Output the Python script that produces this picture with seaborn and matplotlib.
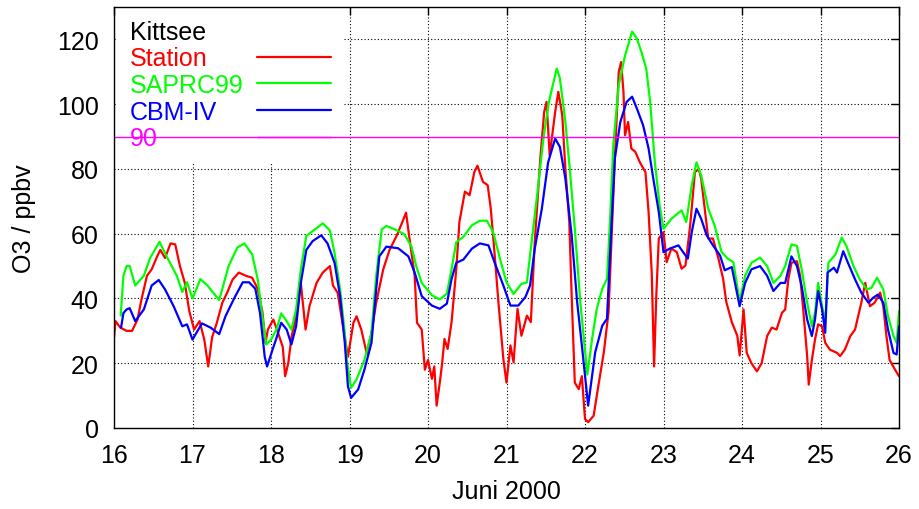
import matplotlib
matplotlib.use("Agg")
import matplotlib.pyplot as plt
import seaborn as sns
import numpy as np

# ---- data (day of June 2000, O3 ppbv) ----
t_station = [16.00, 16.02, 16.08, 16.16, 16.23, 16.30, 16.35, 16.42, 16.48, 16.55, 16.59, 16.65,
             16.72, 16.78, 16.84, 16.90, 16.96, 17.02, 17.09, 17.15, 17.20, 17.25, 17.31, 17.38,
             17.44, 17.51, 17.59, 17.68, 17.76, 17.83, 17.89, 17.93, 17.96, 18.03, 18.09, 18.15,
             18.18, 18.22, 18.26, 18.32, 18.38, 18.44, 18.49, 18.58, 18.66, 18.75, 18.79, 18.85,
             18.91, 18.98, 19.05, 19.09, 19.15, 19.22, 19.28, 19.34, 19.43, 19.51, 19.60, 19.68,
             19.72, 19.76, 19.83, 19.86, 19.92, 19.96, 20.00, 20.05, 20.08, 20.11, 20.15, 20.18,
             20.21, 20.25, 20.30, 20.36, 20.40, 20.47, 20.53, 20.59, 20.63, 20.70, 20.76, 20.80,
             20.85, 20.90, 20.96, 21.00, 21.05, 21.09, 21.14, 21.19, 21.26, 21.31, 21.36, 21.43,
             21.48, 21.51, 21.55, 21.62, 21.66, 21.71, 21.75, 21.80, 21.83, 21.87, 21.92, 21.96,
             22.00, 22.04, 22.11, 22.17, 22.24, 22.30, 22.34, 22.38, 22.43, 22.46, 22.49, 22.51,
             22.55, 22.59, 22.64, 22.70, 22.77, 22.81, 22.85, 22.88, 22.91, 22.94, 23.00, 23.04,
             23.10, 23.17, 23.23, 23.28, 23.34, 23.40, 23.45, 23.48, 23.54, 23.57, 23.63, 23.70,
             23.76, 23.80, 23.87, 23.94, 23.97, 24.02, 24.06, 24.12, 24.19, 24.25, 24.32, 24.38,
             24.44, 24.51, 24.55, 24.59, 24.63, 24.70, 24.74, 24.78, 24.83, 24.85, 24.89, 24.93,
             24.97, 25.02, 25.06, 25.12, 25.21, 25.25, 25.31, 25.38, 25.44, 25.48, 25.52, 25.57,
             25.63, 25.69, 25.76, 25.80, 25.84, 25.88, 25.95, 26.00]
station = [28, 33, 31, 30, 30, 33.5, 39.7, 47, 49, 53, 55, 52.5,
           57, 56.7, 50, 45, 36, 30.4, 33, 27.3, 19, 28, 32.5, 38.7,
           41.7, 45.8, 48, 47, 46.4, 43, 36, 26.3, 30.4, 33.5, 29.4, 25,
           16, 20, 28, 34.5, 44.8, 30.4, 37.6, 44.8, 48, 50, 44, 41.7,
           32.5, 22, 32.5, 34.5, 30.4, 23, 29.4, 38.7, 49, 55, 59.3, 64,
           66.5, 59.3, 47, 32.5, 30.4, 18, 21, 15.2, 19, 6.9, 14, 20,
           27.5, 24.4, 32.7, 49, 63.6, 73, 71.9, 79, 81, 76, 75, 67.7,
           53.3, 38, 21.3, 14, 25.5, 20.3, 36.8, 28.5, 34.7, 32.7, 57.4, 83,
           97.6, 100.7, 84.2, 97.6, 103.8, 96.6, 80, 63.6, 41, 14, 12, 16,
           2.8, 1.8, 3.8, 13, 23.4, 35.8, 59.5, 83.2, 110, 113, 103.8, 90.4,
           94.5, 86.3, 85.3, 82, 79, 66.7, 48, 19, 42, 58.5, 60.5, 51.2,
           55.4, 54.3, 49.2, 50.2, 62.6, 79, 80, 77, 64.6, 58.5, 58.5, 52.3,
           46, 38.9, 32.7, 28.5, 22.4, 36.6, 23.2, 20, 17.5, 20, 28.4, 31,
           30.4, 35.6, 36.6, 45.9, 51, 51.5, 47, 36.6, 22.2, 13.4, 21, 27.3,
           32, 31.4, 26.3, 24.2, 23.2, 22.2, 24.2, 28.4, 30.4, 34.5, 38.7, 44.8,
           37.6, 38.7, 41.8, 37.6, 28.4, 21, 18, 16]

t_saprc = [16.085, 16.12, 16.16, 16.20, 16.27, 16.38, 16.46, 16.58, 16.67, 16.80, 16.87, 16.93,
           17.00, 17.10, 17.19, 17.34, 17.46, 17.57, 17.66, 17.76, 17.83, 17.89, 17.94, 18.00,
           18.07, 18.13, 18.20, 18.26, 18.32, 18.38, 18.45, 18.53, 18.66, 18.75, 18.81, 18.88,
           18.94, 18.97, 19.02, 19.09, 19.19, 19.28, 19.34, 19.41, 19.47, 19.58, 19.70, 19.79,
           19.85, 19.92, 20.05, 20.15, 20.24, 20.30, 20.36, 20.45, 20.56, 20.66, 20.75, 20.83,
           20.92, 21.00, 21.09, 21.19, 21.26, 21.32, 21.40, 21.47, 21.54, 21.64, 21.68, 21.75,
           21.81, 21.87, 21.94, 22.00, 22.03, 22.09, 22.15, 22.22, 22.28, 22.32, 22.36, 22.43,
           22.51, 22.60, 22.66, 22.72, 22.78, 22.83, 22.89, 22.95, 23.00, 23.10, 23.23, 23.29,
           23.36, 23.42, 23.48, 23.57, 23.65, 23.74, 23.82, 23.89, 23.97, 24.04, 24.12, 24.23,
           24.32, 24.40, 24.49, 24.55, 24.63, 24.70, 24.76, 24.83, 24.89, 24.93, 24.97, 25.02,
           25.06, 25.10, 25.19, 25.27, 25.33, 25.42, 25.50, 25.59, 25.65, 25.72, 25.80, 25.86,
           25.93, 25.97, 26.00]
saprc99 = [34.7, 47, 50, 50, 44, 47, 52.5, 57.5, 53, 47, 42, 45,
           40, 46, 44, 39.5, 50, 55.7, 57, 53.6, 46, 34.5, 25.8, 27.3,
           30.4, 35.4, 33, 30.4, 36.6, 49, 59.3, 60.8, 63.2, 61, 54, 42.8,
           29.4, 20, 12.4, 15, 21, 29.4, 47, 61.3, 62.4, 61.3, 59.8, 56,
           50, 44.8, 41, 39.7, 41.5, 49, 57.4, 59, 62.6, 64, 64, 60.5,
           52, 45, 41.4, 44.5, 45, 57.4, 74, 89.4, 100.7, 111, 108, 94.5,
           79, 61.5, 38.9, 24, 16.5, 27.5, 36.8, 43, 46, 64.6, 87.3, 105.9,
           115, 122.4, 120.3, 116, 111, 100.7, 82, 68.8, 61.5, 64.6, 67.2, 63.6,
           75, 82, 78, 67.7, 62.6, 54.3, 52.3, 51.2, 39, 47, 51, 52.6,
           50, 44.8, 47, 50, 56.7, 56.2, 49, 38.7, 31.4, 35.6, 44.8, 37.6,
           32.5, 51, 53.6, 58.8, 56.2, 50, 45.9, 42.8, 43.3, 46.4, 42.8, 34.5,
           28.4, 26.3, 36]

t_cbm = [16.09, 16.12, 16.16, 16.20, 16.27, 16.38, 16.48, 16.57, 16.65, 16.76, 16.87, 16.93,
         17.00, 17.12, 17.23, 17.34, 17.42, 17.53, 17.64, 17.72, 17.80, 17.86, 17.92, 17.95,
         18.02, 18.07, 18.13, 18.20, 18.26, 18.32, 18.38, 18.45, 18.53, 18.64, 18.72, 18.81,
         18.88, 18.94, 18.98, 19.02, 19.11, 19.19, 19.28, 19.34, 19.38, 19.47, 19.62, 19.75,
         19.83, 19.92, 20.05, 20.15, 20.24, 20.30, 20.36, 20.45, 20.56, 20.66, 20.77, 20.85,
         20.96, 21.05, 21.15, 21.24, 21.30, 21.36, 21.45, 21.53, 21.62, 21.68, 21.75, 21.83,
         21.90, 21.96, 22.04, 22.13, 22.22, 22.28, 22.32, 22.38, 22.45, 22.53, 22.60, 22.66,
         22.74, 22.81, 22.87, 22.94, 23.00, 23.08, 23.19, 23.25, 23.31, 23.36, 23.42, 23.48,
         23.55, 23.63, 23.72, 23.78, 23.87, 23.97, 24.04, 24.12, 24.23, 24.32, 24.40, 24.49,
         24.55, 24.63, 24.70, 24.76, 24.83, 24.89, 24.93, 24.97, 25.02, 25.06, 25.09, 25.17,
         25.21, 25.29, 25.35, 25.44, 25.52, 25.61, 25.67, 25.73, 25.80, 25.86, 25.93, 25.97,
         26.00]
cbm_iv = [31, 35.5, 36.6, 37, 33, 36.6, 44, 45.7, 42.8, 37.6, 31.4, 32,
          27.3, 32.3, 31, 29, 34.5, 40, 45, 45, 43, 35.5, 22, 19,
          24.2, 27.8, 32.5, 30.4, 25.8, 31.4, 44.8, 55, 57.7, 59.5, 57, 51,
          40.7, 26.3, 12.9, 9.3, 11.9, 18, 26.3, 42.8, 53, 56, 55.5, 53,
          48, 40.7, 37.8, 36.8, 38.4, 46, 51, 52, 55.4, 57, 56.4, 51,
          44, 37.8, 37.8, 40.4, 44, 55.4, 67.7, 82, 89.4, 86.8, 77, 59.5,
          38.9, 25.5, 6.9, 23.4, 31.6, 33.7, 54.3, 83.2, 94.5, 100.7, 102.3, 98.7,
          93.5, 86.3, 77, 66.7, 54.3, 55.4, 56.4, 54.3, 52.3, 60.5, 67.7, 64.6,
          59.5, 56.4, 53.3, 48.7, 49.7, 37.6, 44.8, 49, 50, 47, 42.3, 44.8,
          44.8, 53, 50, 43.8, 33.5, 28.4, 33.5, 42.3, 36.6, 29.4, 48, 49.5,
          48, 54.6, 51, 45.9, 41.8, 38.7, 40.2, 41.2, 38.7, 30.4, 23.2, 22.7,
          31.4]

threshold = 90
series_names = ["Station", "SAPRC99", "CBM-IV"]
x_ticks = list(range(16, 27))
y_ticks = [0, 20, 40, 60, 80, 100, 120]

# ---- style ----
sns.set_style("white")
plt.rcParams["font.family"] = ["Liberation Sans", "DejaVu Sans"]
plt.rcParams["text.color"] = "black"
plt.rcParams["axes.labelcolor"] = "black"
plt.rcParams["xtick.color"] = "black"
plt.rcParams["ytick.color"] = "black"
FS = 18

fig = plt.figure(figsize=(9.2, 5.1), dpi=100)
ax = fig.add_axes([114 / 920, 1 - 429 / 510, 785 / 920, 421 / 510])

sns.lineplot(x=t_station, y=station, color="#ff0000", lw=1.6, label=series_names[0], ax=ax)
sns.lineplot(x=t_saprc, y=saprc99, color="#00ff00", lw=1.6, label=series_names[1], ax=ax)
sns.lineplot(x=t_cbm, y=cbm_iv, color="#0000ff", lw=1.6, label=series_names[2], ax=ax)
ax.axhline(threshold, color="#ff00ff", lw=1.0, label=str(threshold), zorder=2.5)

ax.set_xlim(16, 26)
ax.set_ylim(0, 130)
ax.set_xticks(x_ticks)
ax.set_yticks(y_ticks)
ax.set_xticklabels([str(v) for v in x_ticks])
ax.set_yticklabels([str(v) for v in y_ticks])
ax.tick_params(direction="in", length=6, width=1, top=True, right=True,
               labelsize=FS, pad=11, colors="black")
ax.set_axisbelow(True)
ax.grid(True, color="black", linestyle=(0, (1, 2)), linewidth=0.8, zorder=0.5)
for sp in ax.spines.values():
    sp.set_color("black")
    sp.set_linewidth(1.0)

ax.set_xlabel("Juni 2000", fontsize=FS, color="black")
ax.set_ylabel("O3 / ppbv", fontsize=FS, color="black")
ax.xaxis.set_label_coords(0.5, -0.122)
ax.yaxis.set_label_coords(-0.099, 0.5)

leg = ax.legend(loc="upper left", bbox_to_anchor=(3 / 785, 1), borderaxespad=0,
                title="Kittsee", fontsize=FS, title_fontsize=FS,
                markerfirst=False, alignment="left", labelcolor="linecolor",
                frameon=True, fancybox=False, facecolor="white", edgecolor="none",
                framealpha=1, handlelength=2.95, handletextpad=0.54,
                labelspacing=0.11, borderpad=0.5)
leg.get_title().set_color("black")
leg.set_zorder(1.8)

# left-align the label texts (handles stay in one column on the right)
fig.canvas.draw()
r = fig.canvas.get_renderer()
items = [hp for col in leg._legend_handle_box.get_children() for hp in col.get_children()]
widths = [hp.get_children()[0].get_window_extent(r).width for hp in items]
wmax = max(widths)
for hp, w in zip(items, widths):
    hp.sep = hp.sep + (wmax - w) * 72 / fig.dpi

fig.savefig("out.png", dpi=100)
